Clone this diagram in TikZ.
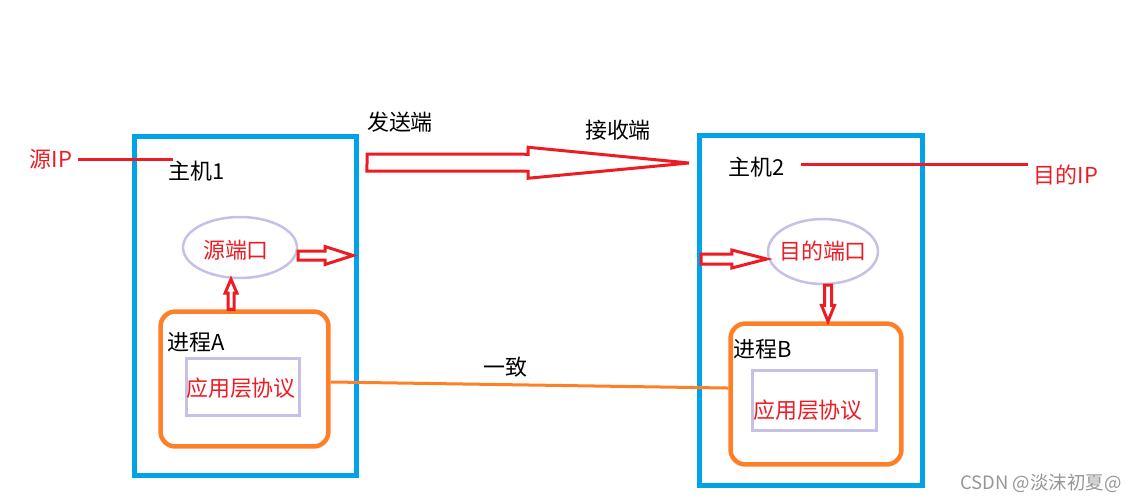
\documentclass[tikz,border=0pt]{standalone}
\usepackage{fontspec}
\newfontfamily\cjk{Noto Sans CJK SC}
\usetikzlibrary{shapes.geometric,calc}
\definecolor{hostblue}{RGB}{0,162,232}
\definecolor{ipred}{RGB}{237,28,36}
\definecolor{procorange}{RGB}{255,127,39}
\definecolor{lavender}{RGB}{200,191,231}
\definecolor{markgray}{RGB}{150,150,150}
% from, to, shaft half width, head half width, head length
\newcommand{\hollowarrow}[5]{%
  \coordinate (ha-neck) at ($(#2)!#5!(#1)$);
  \draw[hollow] ($(#1)!#3!90:(#2)$) -- ($(ha-neck)!#3!90:(#2)$) -- ($(ha-neck)!#4!90:(#2)$) -- (#2)
    -- ($(ha-neck)!#4!-90:(#2)$) -- ($(ha-neck)!#3!-90:(#2)$) -- ($(#1)!#3!-90:(#2)$) -- cycle;}

\begin{document}
\begin{tikzpicture}[x=0.02cm, y=-0.02cm,
    lbl/.style={font=\cjk\fontsize{12.5pt}{14pt}\selectfont},
    redlbl/.style={lbl, text=ipred},
    hostbox/.style={draw=hostblue, line width=0.1cm},
    procbox/.style={draw=procorange, line width=0.09cm, rounded corners=0.3cm},
    protobox/.style={draw=lavender, line width=0.06cm},
    portellipse/.style={ellipse, draw=lavender, line width=0.05cm},
    hollow/.style={draw=ipred, line width=0.06cm},
    ipline/.style={draw=ipred, line width=0.06cm},
    sameline/.style={draw=procorange, line width=0.06cm}]
    \useasboundingbox (0,0) rectangle (1137,501);
    % Hosts
    \node[hostbox, minimum width=4.44cm, minimum height=6.78cm] (host1) at (245.5,306) {};
    \node[hostbox, minimum width=4.46cm, minimum height=7cm] (host2) at (811,310.5) {};
    \node[lbl] (h1label) at (197,171) {主机1};
    \node[lbl] (h2label) at (757,167) {主机2};
    % IP
    \node[redlbl] (srcip) at (51,159) {源IP};
    \node[redlbl] (dstip) at (1066,175) {目的IP};
    \coordinate (ip1end) at (173,159);
    \coordinate (ip2start) at (801,164);
    \draw[ipline] (srcip.east) -- (ip1end);
    \draw[ipline] (ip2start) -- (ip2start -| dstip.west);
    % Ports
    \node[portellipse, minimum width=2.28cm, minimum height=1.22cm] (srcport) at (240,247.5) {};
    \node[redlbl] at (236,250) {源端口};
    \node[portellipse, minimum width=2.2cm, minimum height=1.3cm] (dstport) at (823,251.5) {};
    \node[redlbl] at (dstport) {目的端口};
    % Processes
    \node[procbox, minimum width=3.36cm, minimum height=2.7cm] (procA) at (244.5,379) {};
    \node[procbox, minimum width=3.42cm, minimum height=2.82cm] (procB) at (816,394) {};
    \node[lbl] at (196,342) {进程A};
    \node[lbl] at (763,349) {进程B};
    \node[protobox, minimum width=2.26cm, minimum height=1.15cm] (protoA) at (243,386.75) {};
    \node[redlbl] at (241,388) {应用层协议};
    \node[protobox, minimum width=2.5cm, minimum height=1.2cm] (protoB) at (814.5,400.5) {};
    \node[redlbl] at (808,410) {应用层协议};
    % Send -> receive
    \coordinate (sendtail) at (367,162.5);
    \coordinate (recvtip) at (689,163);
    \node[lbl] at (400,122) {发送端};
    \node[lbl] at (618,130) {接收端};
    \hollowarrow{sendtail}{recvtip}{0.17cm}{0.31cm}{3.22cm}
    % Small arrows
    \coordinate (srcout) at (353,255.5);
    \hollowarrow{$(srcport.east)+(0,8)$}{srcout}{0.09cm}{0.18cm}{0.56cm}
    \coordinate (dstin) at (701,259);
    \hollowarrow{dstin}{$(dstport.west)+(0,7.5)$}{0.1cm}{0.18cm}{0.7cm}
    \hollowarrow{$(procA.north)+(-13.5,0)$}{$(srcport.south)+(-9,0)$}{0.06cm}{0.12cm}{0.28cm}
    \hollowarrow{$(dstport.south)+(5,0)$}{$(procB.north)+(12,0)$}{0.07cm}{0.13cm}{0.32cm}
    % Same protocol
    \draw[sameline] ([yshift=-1.7pt]procA.east) -- ([yshift=3.4pt]procB.west);
    \node[lbl] at (505,367) {一致};
    % Watermark
    \node[font=\cjk\fontsize{10.5pt}{12pt}\selectfont, text=markgray] (mark) at (1041,483) {CSDN @淡沫初夏@};
\end{tikzpicture}
\end{document}
